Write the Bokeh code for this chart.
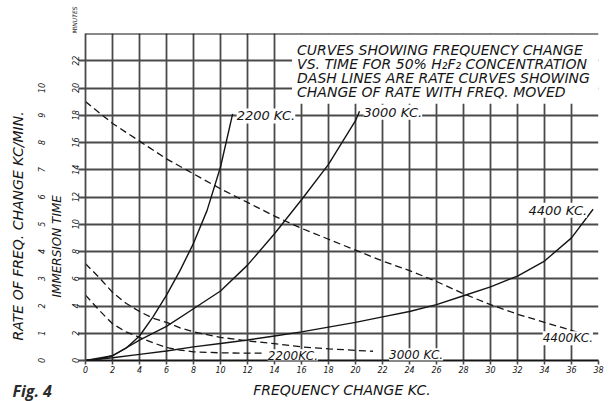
from bokeh.plotting import figure
from bokeh.models import Range1d, LinearAxis, FixedTicker, Label, BoxAnnotation, Span, Title
from bokeh.embed import file_html
from bokeh.resources import INLINE

# ---------------- data ----------------
freq_ticks = list(range(0, 40, 2))          # frequency change, KC
time_ticks = list(range(0, 24, 2))          # immersion time, minutes
time_top = 24                               # top of the time scale
rate_ticks = list(range(0, 11))             # rate of freq. change, KC/min

# solid curves: immersion time (min) vs frequency change (KC)
s2200_x = [0, 1, 2, 3, 4, 5, 6, 7, 8, 9, 10, 10.9]
s2200_t = [0, 0.1, 0.35, 0.9, 1.8, 3.2, 4.8, 6.6, 8.6, 11.0, 14.2, 18.1]

s3000_x = [0, 2, 4, 6, 8, 10, 12, 14, 16, 18, 20, 20.3]
s3000_t = [0, 0.35, 1.5, 2.5, 3.8, 5.1, 7.0, 9.3, 11.8, 14.4, 17.6, 18.3]

s4400_x = [0, 2, 4, 6, 8, 10, 12, 14, 16, 18, 20, 22, 24, 26, 28, 30, 32, 34, 36, 37.6]
s4400_t = [0, 0.2, 0.45, 0.7, 1.0, 1.25, 1.5, 1.8, 2.1, 2.45, 2.8, 3.2, 3.6, 4.1, 4.75,
           5.4, 6.2, 7.3, 9.0, 11.1]

# dashed curves: rate of frequency change (KC/min) vs frequency moved
d2200_x = [0, 1, 2, 3, 4, 5, 6, 7, 8, 10, 12, 13.2]
d2200_r = [2.4, 1.85, 1.35, 1.05, 0.85, 0.65, 0.48, 0.38, 0.32, 0.28, 0.27, 0.27]

d3000_x = [0, 1, 2, 3, 4, 5, 6, 7, 8, 10, 12, 14, 16, 18, 20, 21.3]
d3000_r = [3.55, 3.05, 2.5, 2.1, 1.8, 1.55, 1.4, 1.2, 1.05, 0.85, 0.72, 0.62, 0.5,
           0.43, 0.37, 0.34]

d4400_x = [0, 2, 4, 6, 8, 10, 12, 14, 16, 18, 20, 22, 24, 26, 28, 30, 32, 34, 36.7]
d4400_r = [9.5, 8.7, 8.05, 7.4, 6.85, 6.3, 5.8, 5.3, 4.85, 4.45, 4.05, 3.65, 3.3, 2.9,
           2.45, 2.05, 1.7, 1.4, 1.0]

note_lines = ["CURVES SHOWING FREQUENCY CHANGE",
              "VS. TIME FOR 50% H\u2082F\u2082 CONCENTRATION",
              "DASH LINES ARE RATE CURVES SHOWING",
              "CHANGE OF RATE WITH FREQ. MOVED"]

# ---------------- styling ----------------
INK = "#151515"
GRID = "#4a4a4a"
FONT = "DejaVu Sans"

p = figure(width=615, height=401,
           x_range=Range1d(0, 38), y_range=Range1d(0, time_top),
           output_backend="svg", toolbar_location=None,
           min_border_left=85, min_border_right=17,
           min_border_top=33, min_border_bottom=41)
p.extra_y_ranges = {"rate": Range1d(0, time_top / 2)}
p.outline_line_color = None
p.background_fill_color = "white"
p.border_fill_color = "white"

# grid
p.xgrid.ticker = FixedTicker(ticks=freq_ticks)
p.ygrid.ticker = FixedTicker(ticks=time_ticks + [time_top])
for g in (p.xgrid, p.ygrid):
    g.grid_line_color = GRID
    g.grid_line_width = 1.8
    g.grid_line_alpha = 1.0

# x axis
xa = p.xaxis[0]
xa.ticker = FixedTicker(ticks=freq_ticks)
xa.axis_line_color = INK
xa.axis_line_width = 2.2
xa.major_tick_line_color = GRID
xa.major_tick_line_width = 1.6
xa.major_tick_out = 4
xa.major_tick_in = 0
xa.minor_tick_out = 0
xa.minor_tick_in = 0
xa.major_label_standoff = 1
xa.major_label_text_font = FONT
xa.major_label_text_font_style = "italic"
xa.major_label_text_font_size = "8px"
xa.major_label_text_color = INK
xa.axis_label = "FREQUENCY CHANGE KC."
xa.axis_label_standoff = 6
xa.axis_label_text_font = FONT
xa.axis_label_text_font_style = "italic"
xa.axis_label_text_font_size = "14px"
xa.axis_label_text_color = INK

# inner left axis: immersion time (minutes)
ya = p.yaxis[0]
ya.ticker = FixedTicker(ticks=time_ticks)
ya.axis_line_color = GRID
ya.axis_line_width = 1.8
ya.major_tick_line_color = GRID
ya.major_tick_line_width = 1.8
ya.major_tick_out = 7
ya.major_tick_in = 0
ya.minor_tick_out = 0
ya.minor_tick_in = 0
ya.major_label_standoff = 0
ya.major_label_orientation = "vertical"
ya.major_label_text_font = FONT
ya.major_label_text_font_style = "italic"
ya.major_label_text_font_size = "8px"
ya.major_label_text_color = INK

TSTYLE = dict(text_font=FONT, text_font_style="italic", text_color=INK)

# title of the time scale
p.add_layout(Title(text="IMMERSION TIME", align="left", offset=63, vertical_align="middle",
                   standoff=7, text_font_size="12px", **TSTYLE), "left")

# outer axis: rate of frequency change
ra = LinearAxis(y_range_name="rate", ticker=FixedTicker(ticks=rate_ticks),
                axis_line_color=None, major_tick_out=0, major_tick_in=0,
                minor_tick_out=0, minor_tick_in=0,
                major_label_standoff=1, major_label_orientation="vertical",
                major_label_text_font=FONT, major_label_text_font_style="italic",
                major_label_text_font_size="8px", major_label_text_color=INK)
p.add_layout(ra, "left")

p.add_layout(Title(text="RATE OF FREQ. CHANGE KC/MIN.", align="left", offset=20,
                   vertical_align="middle", standoff=15, text_font_size="14px", **TSTYLE),
             "left")

# "MINUTES" heading above the time scale
p.add_layout(Title(text="MINUTES", align="right", offset=-27, vertical_align="bottom",
                   standoff=-152, text_font_size="6px", **TSTYLE), "left")

# curves
for xs, ys in ((s2200_x, s2200_t), (s3000_x, s3000_t), (s4400_x, s4400_t)):
    p.line(xs, ys, line_color=INK, line_width=1.4)
for xs, ys in ((d2200_x, d2200_r), (d3000_x, d3000_r), (d4400_x, d4400_r)):
    p.line(xs, ys, line_color=INK, line_width=1.3, line_dash="7 4", y_range_name="rate")

# white note box + top rule
NOTE_LEFT, NOTE_BOTTOM = 15.3, 18.85
p.add_layout(BoxAnnotation(left=NOTE_LEFT, bottom=NOTE_BOTTOM, fill_color="white",
                           fill_alpha=1.0, line_color=None, level="annotation"))
p.add_layout(Span(location=time_top, dimension="width", line_color=INK, line_width=2.2,
                  level="overlay"))

def lab(text, x, y, size, xo=0, yo=0, align="left", base="middle", rng="default",
        bg="white", **kw):
    p.add_layout(Label(x=x, y=y, text=text, x_offset=xo, y_offset=yo,
                       text_align=align, text_baseline=base, y_range_name=rng,
                       text_font=FONT, text_font_style="italic",
                       text_font_size=size, text_color=INK,
                       background_fill_color=bg, **kw))

lab("\n".join(note_lines), NOTE_LEFT, time_top, "14px", xo=5, yo=-8, base="top", bg=None,
    text_line_height=0.89)

# curve labels at curve ends
lab("2200 KC.", s2200_x[-1], s2200_t[-1], "13px", xo=4, yo=-2)
lab("3000 KC.", s3000_x[-1], s3000_t[-1], "13px", xo=4, yo=-1)
lab("4400 KC.", s4400_x[-1], s4400_t[-1], "13px", xo=-6, yo=-1, align="right")
lab("2200KC.", d2200_x[-1], d2200_r[-1], "12px", xo=4, yo=-3, rng="rate")
lab("3000 KC.", d3000_x[-1], d3000_r[-1], "12px", xo=16, yo=-4, rng="rate")
lab("4400KC.", d4400_x[-1], d4400_r[-1], "12px", xo=12, yo=-5, align="right", rng="rate")

# figure caption, bottom-left corner
p.add_layout(Title(text="Fig. 4", align="left", offset=-73, standoff=-41,
                   vertical_align="top",
                   text_font="Open Sans", text_font_style="bold italic",
                   text_font_size="16px", text_color="#2a2a2a"), "below")

open("out.html", "w").write(file_html(p, INLINE))
